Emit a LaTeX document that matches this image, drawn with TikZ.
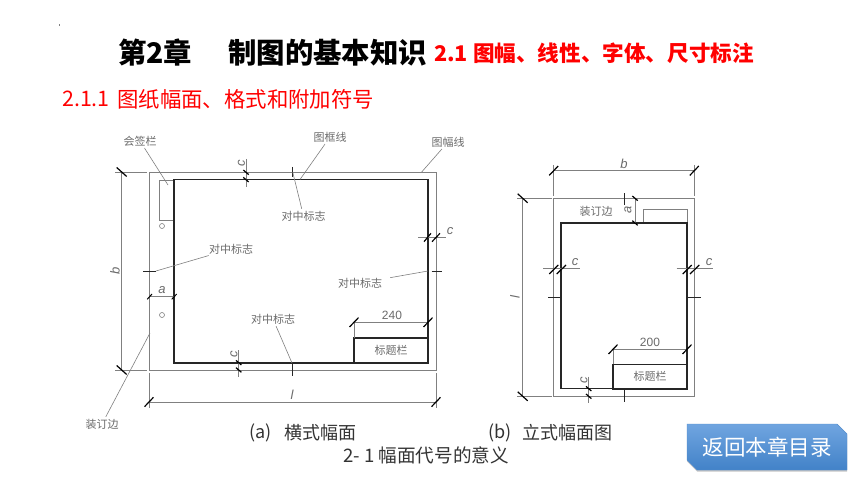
\documentclass[tikz,border=0pt]{standalone}
\usepackage{fontspec}
\setmainfont{Noto Sans CJK SC}
\newfontfamily\dimfont{Liberation Sans}
\usepackage{tikz}
\usetikzlibrary{shapes.misc,shadows}
\definecolor{linegray}{gray}{0.5}
\definecolor{textgray}{gray}{0.42}
\definecolor{btntop}{RGB}{112,165,224}
\definecolor{btnbot}{RGB}{66,130,200}

\begin{document}
\begin{tikzpicture}[x=1pt,y=-1pt]
\tikzset{%
  thinframe/.style = {draw=linegray, line width=.8pt, inner sep=0pt, outer sep=0pt},
  heavyframe/.style = {draw=black!85, line width=1.6pt, inner sep=0pt, outer sep=0pt},
  dimline/.style = {draw=linegray, line width=.7pt},
  leader/.style = {draw=linegray, line width=.6pt, shorten <=1pt},
  tickline/.style = {draw=black, line width=1.2pt},
  centermark/.style = {draw=black!85, line width=1pt},
  cnlabel/.style = {text=textgray, font=\fontsize{11}{11}\selectfont, inner sep=1pt},
  letterlabel/.style = {text=textgray, font=\dimfont\itshape\fontsize{13}{13}\selectfont, inner sep=0pt},
  numlabel/.style = {text=textgray, font=\dimfont\fontsize{12}{12}\selectfont, inner sep=0pt},
  caption/.style = {text=black!80, font=\fontsize{18}{18}\selectfont, inner sep=0pt, anchor=west},
  slashtick/.pic = {\draw[tickline] (-4.5,4.7) -- (4.5,-4.7);},
  backtick/.pic = {\draw[tickline] (-5,-4.5) -- (5,4.5);},
  smalltick/.pic = {\draw[tickline] (-2.7,-2.3) -- (2.7,2.3);}
}

  \path[use as bounding box, fill=white] (0,0) rectangle (860,484);
  \fill[black!50] (58.6,24.5) rectangle (59.4,26);

  % headings
  \node[font=\bfseries\fontsize{28.4}{28}\selectfont, inner sep=0pt, anchor=west]
    (chapter) at (118,53) {第2章};
  \node[font=\bfseries\fontsize{28.4}{28}\selectfont, inner sep=0pt, anchor=west]
    (chaptitle) at (228,53) {制图的基本知识};
  \node[text=red, font=\bfseries\fontsize{21.6}{22}\selectfont, inner sep=0pt, anchor=west]
    (section) at (434,53) {2.1 图幅、线性、字体、尺寸标注};
  \node[text=red, font=\fontsize{21.4}{22}\selectfont, inner sep=0pt, anchor=west]
    (subsecnum) at (62,99) {2.1.1};
  \node[text=red, font=\fontsize{21.4}{22}\selectfont, inner sep=0pt, anchor=west]
    (subsec) at (117,99) {图纸幅面、格式和附加符号};

  % landscape sheet
  \node[thinframe, minimum width=287pt, minimum height=198pt] (sheetA) at (292.5,271) {};
  \node[thinframe, minimum width=14.7pt, minimum height=40pt] (signbox) at (166.7,200) {};
  \node[heavyframe, minimum width=254pt, minimum height=183pt] (frameA) at (301.2,271.2) {};
  \node[heavyframe, minimum width=74pt, minimum height=24.7pt] (titleA) at (391,350.4)
    {\color{textgray}\fontsize{11}{11}\selectfont 标题栏};
  \node[draw=linegray, line width=.6pt, circle, minimum size=5pt, inner sep=0pt] (holeA) at (162,226) {};
  \node[draw=linegray, line width=.6pt, circle, minimum size=5pt, inner sep=0pt] (holeB) at (162,315) {};

  \coordinate (bTop) at (121.7,172);
  \coordinate (bBot) at (121.7,370);
  \draw[dimline] (115,172) -- (147,172);
  \draw[dimline] (115,370) -- (147,370);
  \draw[dimline] (bTop) -- (bBot);
  \pic at (bTop) {backtick};
  \pic at (bBot) {backtick};
  \node[letterlabel, rotate=90] (bLabelA) at (115,271) {b};

  \coordinate (lLeft) at (149,402);
  \coordinate (lRight) at (436,402);
  \draw[dimline] (149,373) -- (149,408);
  \draw[dimline] (436,373) -- (436,408);
  \draw[dimline] (lLeft) -- (lRight);
  \pic at (lLeft) {slashtick};
  \pic at (lRight) {slashtick};
  \node[letterlabel] (lLabelA) at (292,395) {l};

  \coordinate (aLeft) at (149.5,296.7);
  \coordinate (aRight) at (174.3,296.7);
  \draw[dimline] (aLeft) -- (aRight);
  \draw[tickline, line width=1pt] (147.2,299.3) -- (152,294);
  \draw[tickline, line width=1pt] (171.7,299.3) -- (176.7,294);
  \node[letterlabel] (aLabelA) at (162,290) {a};

  \coordinate (cTopA) at (246,159);
  \coordinate (cTopB) at (246,187);
  \draw[dimline] (cTopA) -- (cTopB);
  \pic at (246,172.3) {smalltick};
  \pic at (246,179.7) {smalltick};
  \node[letterlabel, rotate=90] (cLabelT) at (241.5,163) {c};

  \coordinate (cBotA) at (238.7,350);
  \coordinate (cBotB) at (238.7,377);
  \draw[dimline] (cBotA) -- (cBotB);
  \pic at (238.7,362.7) {smalltick};
  \pic at (238.7,370) {smalltick};
  \node[letterlabel, rotate=90] (cLabelB) at (234,354) {c};

  \coordinate (cRightA) at (418,237);
  \coordinate (cRightB) at (446,237);
  \draw[dimline] (cRightA) -- (cRightB);
  \draw[tickline] (424,241.7) -- (431,233.3);
  \draw[tickline] (432,241.7) -- (440,233.3);
  \node[letterlabel] (cLabelR) at (450,231) {c};

  \coordinate (wLeftA) at (354,322.3);
  \coordinate (wRightA) at (428,322.3);
  \draw[dimline] (wLeftA) -- (wRightA);
  \draw[dimline] (wLeftA) -- (titleA.north west);
  \pic at (wLeftA) {slashtick};
  \pic at (wRightA) {slashtick};
  \node[numlabel] (wLabelA) at (392,315) {240};

  \draw[centermark] (292.7,167) -- (292.7,177);
  \draw[centermark] (292.7,363) -- (292.7,376);
  \draw[centermark] (143,271) -- (156,271);
  \draw[centermark] (431.7,271) -- (441.7,271);

  % labels and their leaders
  \node[cnlabel] (signlabel) at (140,141) {会签栏};
  \node[cnlabel] (framelabel) at (330,137) {图框线};
  \node[cnlabel] (sheetlabel) at (448,142) {图幅线};
  \node[cnlabel] (markT) at (303.5,216) {对中标志};
  \node[cnlabel] (markL) at (231,249) {对中标志};
  \node[cnlabel] (markR) at (360,283) {对中标志};
  \node[cnlabel] (markB) at (273,319) {对中标志};
  \node[cnlabel] (bindlabel) at (102,424) {装订边};
  \coordinate (signEnd) at (168,185);
  \coordinate (frameEnd) at (300,179.5);
  \coordinate (sheetEnd) at (421.7,172);
  \coordinate (markTEnd) at (292.7,172);
  \coordinate (markLEnd) at (156,271);
  \coordinate (markREnd) at (428,271);
  \coordinate (markBEnd) at (292,363);
  \coordinate (bindEnd) at (150,333);
  \draw[leader] (signlabel) -- (signEnd);
  \draw[leader] (framelabel) -- (frameEnd);
  \draw[leader] (sheetlabel) -- (sheetEnd);
  \draw[leader] (markT) -- (markTEnd);
  \draw[leader] (markL) -- (markLEnd);
  \draw[leader, shorten <=7pt] (markR) -- (markREnd);
  \draw[leader] (markB) -- (markBEnd);
  \draw[leader] (bindlabel) -- (bindEnd);

  % portrait sheet
  \node[thinframe, minimum width=140.6pt, minimum height=198pt] (sheetB) at (624,297.3) {};
  \node[thinframe, minimum width=43.7pt, minimum height=13.7pt] (signboxB) at (665.2,216.2) {};
  \node[heavyframe, minimum width=126pt, minimum height=165.7pt] (frameB) at (624,305.8) {};
  \node[heavyframe, minimum width=74pt, minimum height=24.4pt] (titleB) at (650,376.5)
    {\color{textgray}\fontsize{11}{11}\selectfont 标题栏};

  \coordinate (bLeftB) at (553.7,170.7);
  \coordinate (bRightB) at (694.3,170.7);
  \draw[dimline] (553.7,165) -- (553.7,196);
  \draw[dimline] (694.3,165) -- (694.3,196);
  \draw[dimline] (bLeftB) -- (bRightB);
  \pic at (bLeftB) {slashtick};
  \pic at (bRightB) {slashtick};
  \node[letterlabel] (bLabelB) at (624,164) {b};

  \coordinate (lTopB) at (522.7,198.3);
  \coordinate (lBotB) at (522.7,396.3);
  \draw[dimline] (517,198.3) -- (552,198.3);
  \draw[dimline] (517,396.3) -- (552,396.3);
  \draw[dimline] (lTopB) -- (lBotB);
  \pic at (lTopB) {backtick};
  \pic at (lBotB) {backtick};
  \node[letterlabel, rotate=90] (lLabelB) at (515,297) {l};

  \coordinate (aTopB) at (635,198.3);
  \coordinate (aBotB) at (635,223);
  \draw[dimline] (aTopB) -- (aBotB);
  \pic at (aTopB) {smalltick};
  \pic at (aBotB) {smalltick};
  \node[letterlabel, rotate=90] (aLabelB) at (628,210) {a};
  \node[cnlabel] (bindlabelB) at (596,211) {装订边};

  \coordinate (cLeftA) at (543,268.7);
  \coordinate (cLeftB) at (580,268.7);
  \draw[dimline] (cLeftA) -- (cLeftB);
  \draw[tickline] (549.3,274) -- (558.3,265);
  \draw[tickline] (556.7,274) -- (566,265);
  \node[letterlabel] (cLabelBL) at (575,262) {c};

  \coordinate (cRgtA) at (676.7,268.7);
  \coordinate (cRgtB) at (713,268.7);
  \draw[dimline] (cRgtA) -- (cRgtB);
  \draw[tickline] (682.7,274) -- (691.7,265);
  \draw[tickline] (690,274) -- (699.3,265);
  \node[letterlabel] (cLabelBR) at (709,262) {c};

  \coordinate (cBtmA) at (588.7,376.7);
  \coordinate (cBtmB) at (588.7,403);
  \draw[dimline] (cBtmA) -- (cBtmB);
  \pic at (588.7,388.7) {smalltick};
  \pic at (588.7,396.3) {smalltick};
  \node[letterlabel, rotate=90] (cLabelBB) at (584,380) {c};

  \coordinate (wLeftB) at (613,349.3);
  \coordinate (wRightB) at (687,349.3);
  \draw[dimline] (wLeftB) -- (wRightB);
  \draw[dimline] (wLeftB) -- (titleB.north west);
  \pic at (wLeftB) {slashtick};
  \pic at (wRightB) {slashtick};
  \node[numlabel] (wLabelB) at (650,342) {200};

  \draw[centermark] (624,193.3) -- (624,205);
  \draw[centermark] (624,390) -- (624,401.7);
  \draw[centermark] (548,297.3) -- (561,297.3);
  \draw[centermark] (687,297.3) -- (700.7,297.3);

  % captions
  \node[caption] (capA) at (249,432.5) {(a)};
  \node[caption] (capAtext) at (284,432.5) {横式幅面};
  \node[caption] (capB) at (488,432.5) {(b)};
  \node[caption] (capBtext) at (522,432.5) {立式幅面图};
  \node[caption, font=\fontsize{18.6}{18}\selectfont] (capC) at (343,455) {2- 1 幅面代号的意义};

  % return button
  \node[chamfered rectangle, chamfered rectangle corners={north east,south west},
    chamfered rectangle xsep=5pt, chamfered rectangle ysep=5pt,
    top color=btntop, bottom color=btnbot, draw=btnbot!90!white, line width=.4pt,
    minimum width=160pt, minimum height=46pt, inner sep=0pt,
    drop shadow={shadow xshift=0pt, shadow yshift=-1.5pt, opacity=.45},
    text=white, font=\fontsize{21.5}{22}\selectfont]
    (backbtn) at (767,447) {返回本章目录};
\end{tikzpicture}
\end{document}
